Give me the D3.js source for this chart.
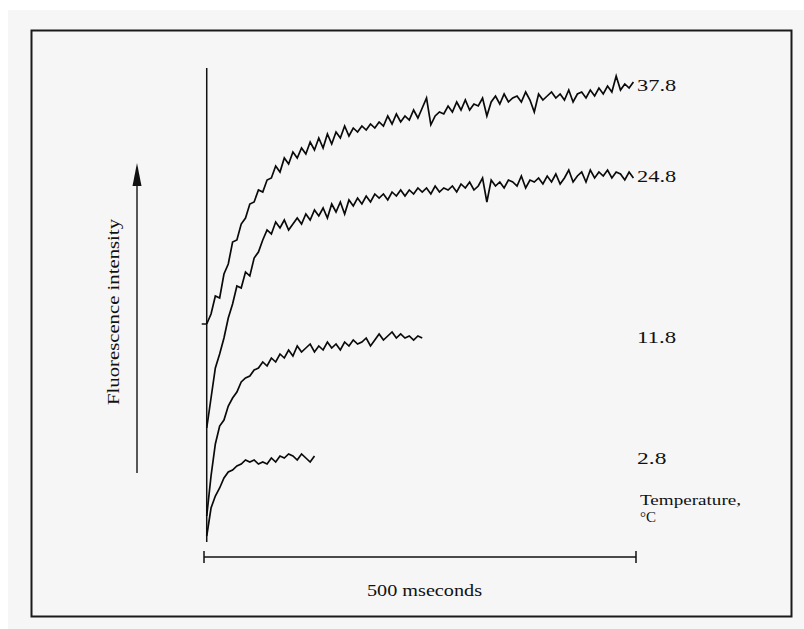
<!DOCTYPE html>
<html>
<head>
<meta charset="utf-8">
<script src="https://cdn.jsdelivr.net/npm/d3@7"></script>
<style>
  body { margin: 0; background: #ffffff; }
  svg text { font-family: 'Liberation Serif', 'DejaVu Serif', serif; fill: #111; }
</style>
</head>
<body>
<svg id="chart"></svg>
<script>
// temperatures (deg C) labelling each trace
const temperatures = ['37.8', '24.8', '11.8', '2.8'];

// traces sampled every 5 ms, intensity in arbitrary units
const startMs = 2;
const stepMs = 5;

const trace378 = [
  54.0, 56.5, 61.0, 60.5, 66.5, 69.0, 74.5, 75.0, 79.0, 80.5,
  84.0, 84.5, 87.5, 87.0, 90.0, 90.5, 93.5, 92.0, 95.5, 94.0,
  97.0, 95.5, 98.0, 96.5, 99.5, 97.5, 100.5, 98.0, 101.5, 99.0,
  102.0, 100.5, 103.5, 101.0, 103.0, 102.0, 103.5, 102.5, 104.0, 103.0,
  104.5, 103.5, 106.0, 104.0, 106.5, 104.5, 106.0, 105.0, 107.5, 105.5,
  108.0, 110.5, 103.8, 106.0, 107.0, 106.5, 108.5, 107.0, 109.5, 107.5,
  110.0, 107.5, 109.0, 108.5, 110.5, 106.0, 109.5, 111.0, 109.0, 111.5,
  109.5, 110.5, 111.0, 109.5, 112.0, 110.0, 107.0, 111.5, 110.0, 111.0,
  112.0, 110.5, 111.5, 110.0, 112.5, 109.5, 111.5, 112.0, 110.5, 112.5,
  111.0, 113.0, 111.5, 113.5, 112.0, 116.0, 112.5, 114.0, 113.0, 114.5
];

const trace248 = [
  28.0, 35.5, 43.0, 46.5, 50.5, 55.5, 59.0, 63.5, 63.0, 67.0,
  66.0, 70.5, 72.0, 75.0, 77.5, 76.5, 79.5, 78.0, 80.0, 77.5,
  79.0, 80.5, 79.0, 81.5, 80.0, 82.5, 81.0, 83.0, 80.5, 84.0,
  82.0, 84.5, 81.5, 85.0, 83.5, 85.5, 84.0, 86.0, 84.5, 86.5,
  85.5, 86.5, 85.0, 87.0, 86.0, 87.5, 86.0, 87.5, 86.5, 88.0,
  87.0, 88.0, 86.5, 88.5, 87.0, 88.0, 87.5, 88.5, 87.0, 89.0,
  88.0, 89.5, 87.5, 88.5, 90.5, 84.5, 90.0, 88.5, 89.5, 88.0,
  90.0, 89.5, 88.5, 91.0, 88.0, 90.0, 89.5, 90.5, 89.0, 91.0,
  89.5, 91.5, 89.0, 90.5, 92.5, 89.5, 91.0, 92.0, 89.5, 92.5,
  90.5, 92.0, 91.0, 92.5, 90.5, 92.0, 91.5, 90.0, 92.0, 90.5
];

const trace118 = [
  6.0, 16.0, 24.0, 28.5, 30.0, 33.5, 35.5, 37.0, 39.5, 40.5,
  41.0, 42.5, 43.0, 44.5, 43.5, 45.5, 44.5, 46.5, 45.5, 47.5,
  46.0, 48.5, 47.0, 48.0, 49.0, 47.0, 48.5, 47.5, 49.5, 48.0,
  49.0, 47.5, 49.5, 48.5, 50.0, 49.0, 49.5, 50.5, 48.5, 50.0,
  51.5, 50.0, 51.0, 52.0, 50.5, 51.5, 50.5, 51.0, 50.0, 51.0,
  50.5
];

const trace28 = [
  1.0, 8.0, 11.0, 13.0, 15.5, 17.0, 17.5, 18.5, 19.0, 20.0,
  19.5, 20.0, 19.0, 19.5, 19.0, 20.5, 19.5, 21.0, 20.5, 21.5,
  21.0, 20.0, 21.5, 20.5, 19.5, 21.0
];

const traces = [trace378, trace248, trace118, trace28];

const yLabel = 'Fluorescence intensity';
const xLabel = '500 mseconds';
const scaleBarMs = [0, 500];
const tempTitle = ['Temperature,', '\u00b0C'];

const width = 804;
const height = 629;

const svg = d3.select('#chart')
  .attr('width', width)
  .attr('height', height);

// grey page and frame
svg.append('rect')
  .attr('x', 8).attr('y', 10)
  .attr('width', width - 8).attr('height', height - 10)
  .attr('fill', '#f6f6f6');

svg.append('rect')
  .attr('x', 31.5).attr('y', 30.5)
  .attr('width', 760).attr('height', 586)
  .attr('fill', 'none')
  .attr('stroke', '#1a1a1a')
  .attr('stroke-width', 2);

const x = d3.scaleLinear()
  .domain([0, 500])
  .range([205, 636]);

const y = d3.scaleLinear()
  .domain([0, 118])
  .range([540, 68]);

// vertical axis line at trace start
svg.append('line')
  .attr('x1', x(startMs)).attr('x2', x(startMs))
  .attr('y1', y(118)).attr('y2', y(-0.5))
  .attr('stroke', '#111')
  .attr('stroke-width', 1.5);

// little tick where the 37.8 trace begins
svg.append('line')
  .attr('x1', x(startMs) - 5).attr('x2', x(startMs))
  .attr('y1', y(trace378[0])).attr('y2', y(trace378[0]))
  .attr('stroke', '#111')
  .attr('stroke-width', 1.5);

const line = d3.line()
  .x((d, i) => x(startMs + i * stepMs))
  .y((d) => y(d));

svg.append('g')
  .selectAll('path')
  .data(traces)
  .enter()
  .append('path')
  .attr('d', line)
  .attr('fill', 'none')
  .attr('stroke', '#0a0a0a')
  .attr('stroke-width', 1.7)
  .attr('stroke-linejoin', 'miter');

// temperature labels at the plateau of each trace
svg.append('g')
  .selectAll('text')
  .data(temperatures)
  .enter()
  .append('text')
  .text((d) => d)
  .attr('x', 637)
  .attr('y', (d, i) => y(d3.mean(traces[i].slice(-6))) + 6)
  .attr('font-size', 17)
  .attr('textLength', (d) => d.length * 9.8)
  .attr('lengthAdjust', 'spacingAndGlyphs');

svg.append('text')
  .text(tempTitle[0])
  .attr('x', 640).attr('y', 505)
  .attr('font-size', 15)
  .attr('textLength', 101)
  .attr('lengthAdjust', 'spacingAndGlyphs');

svg.append('text')
  .text(tempTitle[1])
  .attr('x', 640).attr('y', 522)
  .attr('font-size', 15);

// 500 ms scale bar
const barY = 557;
svg.append('line')
  .attr('x1', x(scaleBarMs[0]) - 1).attr('x2', x(scaleBarMs[1]))
  .attr('y1', barY).attr('y2', barY)
  .attr('stroke', '#111')
  .attr('stroke-width', 1.5);

svg.append('g')
  .selectAll('line')
  .data(scaleBarMs)
  .enter()
  .append('line')
  .attr('x1', (d) => x(d) - (d === 0 ? 1 : 0))
  .attr('x2', (d) => x(d) - (d === 0 ? 1 : 0))
  .attr('y1', barY - 6).attr('y2', barY + 6)
  .attr('stroke', '#111')
  .attr('stroke-width', 1.5);

svg.append('text')
  .text(xLabel)
  .attr('x', 367).attr('y', 596)
  .attr('font-size', 16)
  .attr('textLength', 115)
  .attr('lengthAdjust', 'spacingAndGlyphs');

// y label with arrow
svg.append('text')
  .text(yLabel)
  .attr('transform', 'translate(119, 405) rotate(-90)')
  .attr('font-size', 16)
  .attr('textLength', 186)
  .attr('lengthAdjust', 'spacingAndGlyphs');

svg.append('line')
  .attr('x1', 137).attr('x2', 137)
  .attr('y1', 473).attr('y2', 180)
  .attr('stroke', '#222')
  .attr('stroke-width', 1.5);

svg.append('path')
  .attr('d', 'M137,163 L141.5,186 L132.5,186 Z')
  .attr('fill', '#111');
</script>
</body>
</html>
